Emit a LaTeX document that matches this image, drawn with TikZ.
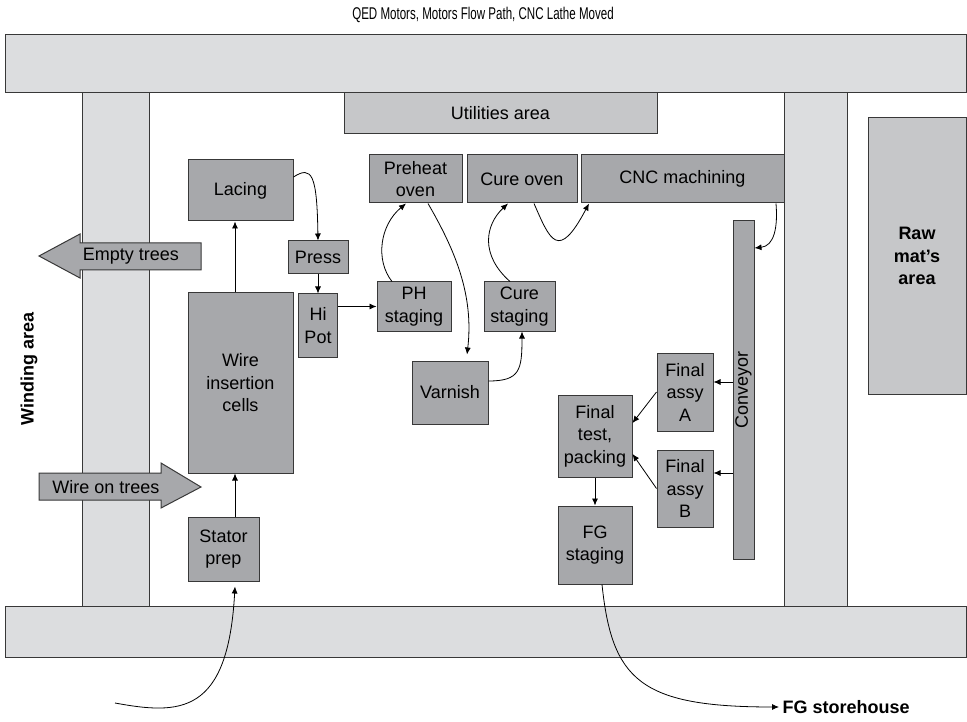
\documentclass[tikz,border=0pt]{standalone}
\usepackage{fontspec}
\setmainfont{Liberation Sans}
\newfontfamily\titlefont[FakeStretch=0.68]{Liberation Sans}
\usepackage{tikz}
\usetikzlibrary{positioning, arrows.meta, calc}
\definecolor{aislegray}{HTML}{DCDDDF}
\definecolor{zonegray}{HTML}{C6C7C9}
\definecolor{procgray}{HTML}{A7A8AB}
\definecolor{edgegray}{HTML}{383838}
\newcommand{\procfont}{\fontsize{18}{22.5}\selectfont}
\tikzset{
  aisle/.style={draw=edgegray, fill=aislegray, line width=1pt},
  zone/.style={rectangle, draw=edgegray, fill=zonegray, line width=1pt, inner sep=0pt, align=center, font=\procfont},
  proc/.style={rectangle, draw=edgegray, fill=procgray, line width=1pt, inner sep=0pt, align=center, font=\procfont},
  trees/.style={draw=edgegray, fill=procgray, line width=1pt},
  flow/.style={line width=0.8pt, -{Latex[length=7pt,width=6pt]}}
}

\begin{document}
\begin{tikzpicture}[x=1pt, y=-1pt]
        \useasboundingbox (0,0) rectangle (967,722);
        \node (title) [font=\titlefont\fontsize{17}{20}\selectfont] at (483,15) {QED Motors, Motors Flow Path, CNC Lathe Moved};

        % aisles
        \draw [aisle] (82,93) rectangle (149,606);
        \draw [aisle] (784,93) rectangle (847,606);
        \draw [aisle] (5,35) rectangle (966,93);
        \draw [aisle] (5,606) rectangle (966,657);
        \node (utilities) [zone, minimum width=313pt, minimum height=41pt] at (500.5,113.5) {Utilities area};
        \node (rawmat) [zone, font=\bfseries\procfont, minimum width=98pt, minimum height=276pt] at (917,256) {Raw\\mat’s\\area};
        \node (winding) [rotate=90, font=\bfseries\procfont] at (29,369) {Winding area};

        % trees in and out
        \draw [trees] (39,256) -- (80,234) -- (80,243) -- (201,243) -- (201,270) -- (80,270) -- (80,278) -- cycle;
        \node (empty) [font=\procfont] at (131,256.5) {Empty trees};
        \draw [trees] (39,473) -- (161,473) -- (161,463) -- (201,487) -- (161,508) -- (161,500) -- (39,500) -- cycle;
        \node (wiretrees) [font=\procfont] at (106,487) {Wire on trees};

        \node (lacing) [proc, minimum width=105pt, minimum height=61pt] at (240.5,190.5) {Lacing};
        \node (wire) [proc, minimum width=105pt, minimum height=180pt] at (240.5,383) {Wire\\insertion\\cells};
        \node (stator) [proc, minimum width=71pt, minimum height=64pt] at (223.5,549) {Stator\\prep};
        \node (press) [proc, minimum width=60pt, minimum height=33pt] at (318,257.5) {Press};
        \node (hipot) [proc, below=19pt of press, minimum width=39pt, minimum height=63pt] {Hi\\Pot};
        \node (ph) [proc, minimum width=74pt, minimum height=49pt] at (414,306.5) {PH\\staging};
        \node (preheat) [proc, minimum width=93pt, minimum height=48pt] at (415.5,179) {Preheat\\oven};
        \node (cureoven) [proc, minimum width=110pt, minimum height=48pt] at (522,179) {Cure oven};
        \node (cnc) [proc, minimum width=203pt, minimum height=48pt] at (682.5,179) {CNC machining};
        \node (custage) [proc, minimum width=71pt, minimum height=49pt] at (519.5,306.5) {Cure\\staging};
        \node (varnish) [proc, minimum width=76pt, minimum height=63pt] at (450,392.5) {Varnish};
        \node (conveyor) [proc, minimum width=21pt, minimum height=338pt, label={[rotate=90, font=\procfont]center:Conveyor}] at (743.5,390) {};
        \node (assyA) [proc, minimum width=56pt, minimum height=78pt] at (685,392) {Final\\assy\\A};
        \node (assyB) [proc, below=18pt of assyA, minimum width=56pt, minimum height=77pt] {Final\\assy\\B};
        \node (fintest) [proc, minimum width=74pt, minimum height=82pt] at (595,436) {Final\\test,\\packing};
        \node (fgstage) [proc, below=28pt of fintest, minimum width=74pt, minimum height=78pt] {FG\\staging};
        \node (store) [anchor=west, font=\bfseries\procfont] at (779,707) {FG storehouse};
        \coordinate (inflow) at (115,703);

        \draw [flow] (inflow) .. controls (180,715) and (228,715) .. ([xshift=11.5pt,yshift=-5pt]stator.south);
        \draw [flow] ([xshift=11.5pt]stator.north) -- ([xshift=-5.5pt]wire.south);
        \draw [flow] ([xshift=-5.5pt]wire.north) -- ([xshift=-5.5pt]lacing.south);
        \draw [flow] ([yshift=13.5pt]lacing.east) .. controls (312,165) and (317,175) .. (press.north);
        \draw [flow] (press.south) -- (press.south |- hipot.north);
        \draw [flow] (hipot.east |- ph.west) -- (ph.west);
        \draw [flow] ([xshift=-22pt]ph.north) .. controls (375,260) and (380,225) .. ([xshift=-9.5pt]preheat.south);
        \draw [flow] ([xshift=12.5pt]preheat.south) .. controls (455,250) and (474,295) .. ([xshift=17pt,yshift=6pt]varnish.north);
        \draw [flow] ([yshift=11.5pt]varnish.east) .. controls (520,381) and (522,370) .. ([xshift=2.5pt]custage.south);
        \draw [flow] ([xshift=-9.5pt]custage.north) .. controls (480,255) and (485,225) .. ([xshift=-14pt]cureoven.south);
        \draw [flow] ([xshift=12pt]cureoven.south) .. controls (550,240) and (558,262) .. ([xshift=-93.5pt]cnc.south);
        \draw [flow] ([xshift=93.5pt]cnc.south) .. controls (778,228) and (774,246) .. ([yshift=142pt]conveyor.east);
        \draw [flow] ([yshift=10pt]assyA.east -| conveyor.west) -- ([yshift=10pt]assyA.east);
        \draw [flow] ([yshift=15.5pt]assyB.east -| conveyor.west) -- ([yshift=15.5pt]assyB.east);
        \draw [flow] (assyA.west) -- ([yshift=13pt]fintest.east);
        \draw [flow] (assyB.west) -- ([yshift=-18pt]fintest.east);
        \draw [flow] (fintest) -- (fgstage);
        \draw [flow] ([xshift=7pt]fgstage.south) .. controls (612,680) and (640,707) .. (store.west);
\end{tikzpicture}
\end{document}
